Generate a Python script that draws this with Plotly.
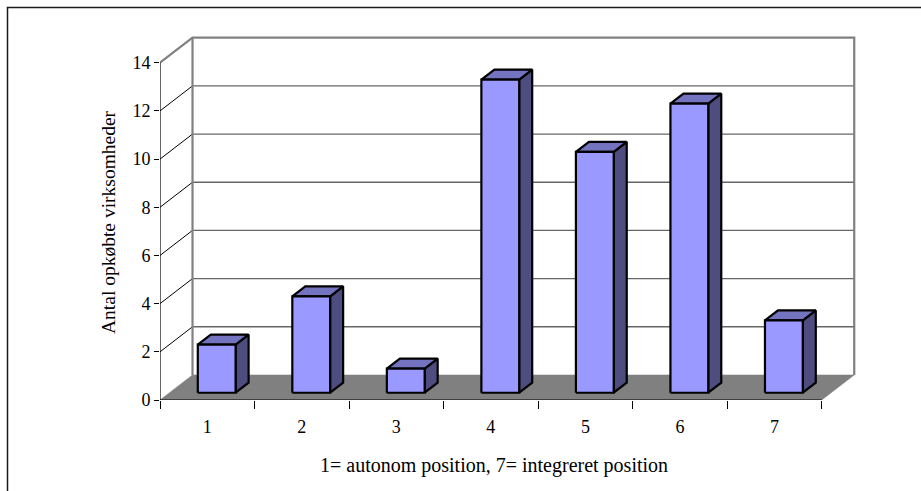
import plotly.graph_objects as go

# Data
categories = ["1", "2", "3", "4", "5", "6", "7"]
counts = [2, 4, 1, 13, 10, 12, 3]
y_ticks = [0, 2, 4, 6, 8, 10, 12, 14]
x_title = "1= autonom position, 7= integreret position"
y_title = "Antal opkøbte virksomheder"

# Oblique 3-D projection: a step of one full depth moves DX along x and DY along y
DX, DY = 0.344, 1.04
BAR_W = 0.40
D0, D1 = 0.29, 0.69          # front / back depth of the columns
N = len(categories)
YMAX = max(y_ticks)

FONT = "Liberation Serif"
FRONT_C, TOP_C, SIDE_C = "#9999FF", "#7373BF", "#4D4D80"
WALL_LINE = "#808080"

# Plot geometry (pixels per data unit)
L, R, T, B = 160, 52, 34, 91
W, H = 921, 491
PX_X, PX_Y = 94.53, 24.09
x_max = (W - L - R) / PX_X
y_max = (H - T - B) / PX_Y


def proj(x, y, d):
    return x + d * DX, y + d * DY


def line_trace(pts, color, width, xaxis="x", clip=True):
    xs = [p[0] for p in pts]
    ys = [p[1] for p in pts]
    return go.Scatter(x=xs, y=ys, mode="lines", xaxis=xaxis,
                      line=dict(color=color, width=width),
                      hoverinfo="skip", showlegend=False, cliponaxis=clip)


fig = go.Figure()

# Back-wall gridlines with diagonal connectors to the value axis
for v in y_ticks[1:-1]:
    fig.add_trace(line_trace([proj(0, v, 0), proj(0, v, 1)], "#000000", 1))
    fig.add_trace(line_trace([proj(0, v, 1), proj(N, v, 1)], "#666666", 1.3))

# Wall outline
fig.add_trace(line_trace([proj(0, YMAX, 0), proj(0, YMAX, 1), proj(N, YMAX, 1),
                          proj(N, 0, 1)], WALL_LINE, 2.2))
fig.add_trace(line_trace([proj(0, 0, 1), proj(0, YMAX, 1)], WALL_LINE, 2.2))

# Floor
floor = [proj(0, 0, 0), proj(N, 0, 0), proj(N, 0, 1), proj(0, 0, 1), proj(0, 0, 0)]
fig.add_trace(go.Scatter(x=[p[0] for p in floor], y=[p[1] for p in floor],
                         mode="lines", fill="toself", fillcolor="#808080",
                         line=dict(color="#808080", width=0.5),
                         hoverinfo="skip", showlegend=False))

# Columns: front, top and side faces
faces = {"front": ([], []), "top": ([], []), "side": ([], [])}
for i, v in enumerate(counts):
    x0 = i + 0.5 - BAR_W / 2
    x1 = x0 + BAR_W
    quads = {
        "front": [proj(x0, 0, D0), proj(x1, 0, D0), proj(x1, v, D0), proj(x0, v, D0)],
        "top": [proj(x0, v, D0), proj(x1, v, D0), proj(x1, v, D1), proj(x0, v, D1)],
        "side": [proj(x1, 0, D0), proj(x1, 0, D1), proj(x1, v, D1), proj(x1, v, D0)],
    }
    for k, q in quads.items():
        q = q + [q[0]]
        faces[k][0].extend([p[0] for p in q] + [None])
        faces[k][1].extend([p[1] for p in q] + [None])

for k, col in (("side", SIDE_C), ("top", TOP_C), ("front", FRONT_C)):
    fig.add_trace(go.Scatter(x=faces[k][0], y=faces[k][1], mode="lines",
                             fill="toself", fillcolor=col,
                             line=dict(color="#000000", width=2.2),
                             hoverinfo="skip", showlegend=False))

# Axis lines (value axis up to the top tick, category axis across the floor front)
fig.add_trace(line_trace([(0, 0), (0, YMAX)], "#000000", 1.2, clip=False))
fig.add_trace(line_trace([(0, 0), (N, 0)], "#000000", 1.2, xaxis="x2", clip=False))

tick_font = dict(family=FONT, size=18, color="#000000")
title_font = dict(family=FONT, size=19.5, color="#000000")

fig.update_layout(
    width=W, height=H,
    margin=dict(l=L, r=R, t=T, b=B, pad=0),
    paper_bgcolor="#FFFFFF", plot_bgcolor="#FFFFFF",
    showlegend=False,
    xaxis=dict(range=[0, x_max], tickvals=list(range(N + 1)),
               ticktext=[""] * (N + 1), ticks="outside", ticklen=8,
               tickcolor="#000000", tickwidth=1, showgrid=False,
               zeroline=False, showline=False, fixedrange=True),
    xaxis2=dict(range=[0, x_max], overlaying="x", anchor="y", side="bottom",
                tickvals=[i + 0.5 for i in range(N)], ticktext=categories,
                ticks="outside", ticklen=10, tickcolor="rgba(0,0,0,0)",
                tickfont=tick_font, showgrid=False, zeroline=False,
                showline=False, fixedrange=True),
    yaxis=dict(range=[0, y_max], tickvals=y_ticks, ticks="outside", ticklen=5,
               tickcolor="#000000", tickwidth=1, tickfont=tick_font,
               showgrid=False, zeroline=False, showline=False, fixedrange=True),
    annotations=[
        dict(text=x_title, xref="paper", yref="paper",
             x=(494 - L) / (W - L - R), y=-(465 - (H - B)) / (H - T - B),
             xanchor="center", yanchor="middle", showarrow=False,
             font=dict(family=FONT, size=20, color="#000000")),
        dict(text=y_title, xref="paper", yref="paper", textangle=-90,
             x=-(L - 108) / (W - L - R), y=((H - B) - 222) / (H - T - B),
             xanchor="center", yanchor="middle", showarrow=False,
             font=title_font),
    ],
    shapes=[
        dict(type="rect", xref="paper", yref="paper",
             x0=-(L - 7.5) / (W - L - R), x1=1.5,
             y0=-1.0, y1=((H - B) - 7.5) / (H - T - B),
             line=dict(color="#1a1a1a", width=1.5), layer="below"),
    ],
)

fig.write_html("out.html")
